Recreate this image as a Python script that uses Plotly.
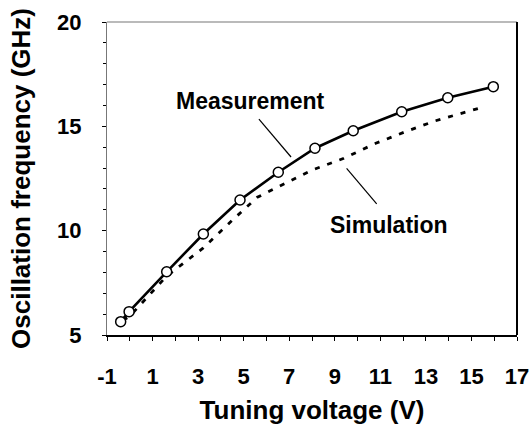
import plotly.graph_objects as go

meas_v = [-0.4, -0.03, 1.62, 3.23, 4.84, 6.52, 8.13, 9.81, 11.94, 13.96, 15.96]
meas_f = [5.64, 6.12, 8.03, 9.84, 11.47, 12.80, 13.95, 14.79, 15.70, 16.37, 16.90]

sim_v = [-0.3, 0.0, 1.6, 3.2, 4.5, 5.6, 6.7, 8.0, 9.4, 10.8, 12.1, 13.4, 14.8, 15.6]
sim_f = [5.7, 5.9, 7.8, 9.15, 10.5, 11.6, 12.2, 12.9, 13.47, 14.19, 14.74, 15.26, 15.7, 15.95]

x_ticks = [-1, 1, 3, 5, 7, 9, 11, 13, 15, 17]
y_ticks = [5, 10, 15, 20]

FONT = "Liberation Sans, Arial, sans-serif"

fig = go.Figure()
fig.add_trace(go.Scatter(x=sim_v, y=sim_f, mode="lines",
                         line=dict(color="black", width=2.8, dash="5px,8px"),
                         showlegend=False))
fig.add_trace(go.Scatter(x=meas_v, y=meas_f, mode="lines+markers",
                         line=dict(color="black", width=2.6),
                         marker=dict(symbol="circle", size=10, color="white",
                                     line=dict(color="black", width=1.5)),
                         showlegend=False))

fig.add_annotation(x=5.32, y=16.2, text="<b>Measurement</b>", showarrow=False,
                   font=dict(family=FONT, size=23, color="black"))
fig.add_annotation(x=11.38, y=10.27, text="<b>Simulation</b>", showarrow=False,
                   font=dict(family=FONT, size=23, color="black"))
fig.add_shape(type="line", x0=5.67, y0=15.35, x1=7.08, y1=13.53,
              line=dict(color="black", width=1.2))
fig.add_shape(type="line", x0=9.52, y0=12.99, x1=10.84, y1=11.28,
              line=dict(color="black", width=1.2))
# frame top (gray) and right (black)
fig.add_shape(type="line", xref="paper", yref="paper", x0=0, y0=1, x1=1, y1=1,
              line=dict(color="#777777", width=1.2))
fig.add_shape(type="line", xref="paper", yref="paper", x0=1, y0=0, x1=1, y1=1,
              line=dict(color="black", width=2))

fig.update_layout(
    width=530, height=425,
    margin=dict(l=107, r=13, t=22, b=90),
    paper_bgcolor="white", plot_bgcolor="white",
    font=dict(family=FONT, color="black"),
    xaxis=dict(range=[-1, 17], tickvals=x_ticks, ticktext=["<b>%d</b>" % v for v in x_ticks],
               automargin=False,
               showgrid=False, zeroline=False, showline=True, linecolor="black", linewidth=2,
               ticks="outside", ticklen=4, tickcolor="black",
               minor=dict(dtick=1, ticks="outside", ticklen=4, tickcolor="black"),
               ticklabelstandoff=17, ticklabeloverflow="allow",
               tickfont=dict(family=FONT, size=22, color="black"),
               title=dict(text="<b>Tuning voltage (V)</b>", standoff=12,
                          font=dict(family=FONT, size=26, color="black"))),
    yaxis=dict(range=[5, 20], tickvals=y_ticks, ticktext=["<b>%d</b>" % v for v in y_ticks],
               automargin=False,
               showgrid=False, zeroline=False, showline=True, linecolor="#777777", linewidth=1.2,
               ticks="outside", ticklen=4, tickcolor="black",
               minor=dict(dtick=1, ticks="outside", ticklen=3, tickcolor="black"),
               ticklabelstandoff=16,
               tickfont=dict(family=FONT, size=22, color="black"),
               title=dict(text="<b>Oscillation frequency (GHz)</b>", standoff=18,
                          font=dict(family=FONT, size=26, color="black"))),
)

fig.write_html("out.html", config={"displayModeBar": False},
               post_script="document.body.style.margin='0';document.body.style.padding='0';")
